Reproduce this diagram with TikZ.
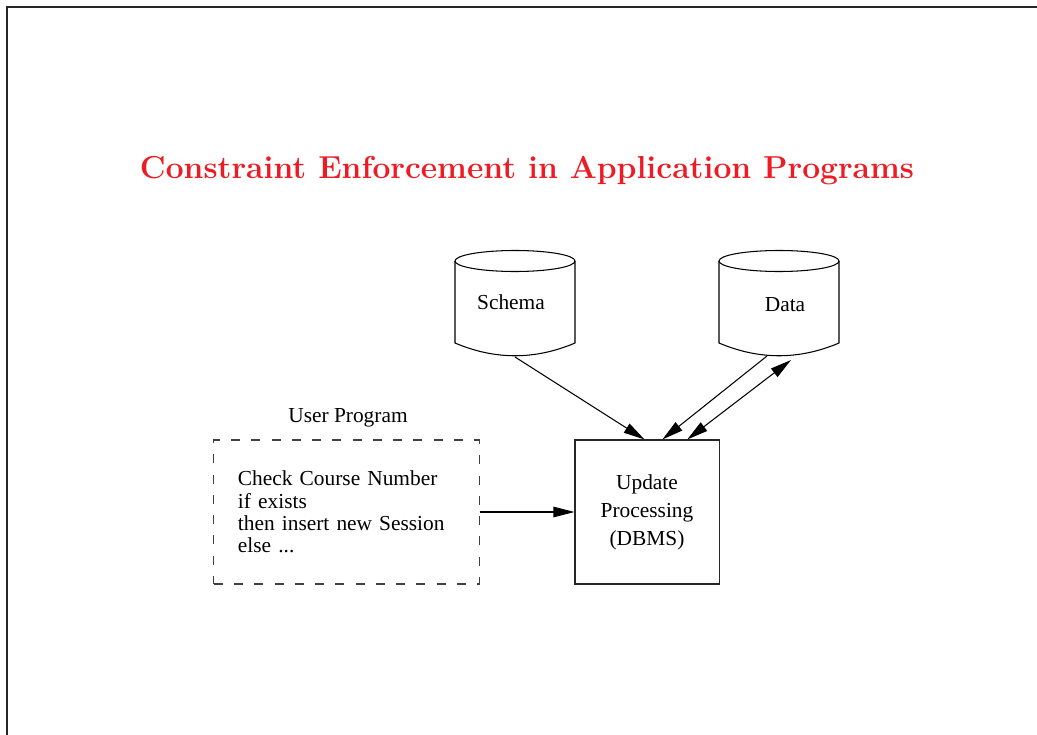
\documentclass[tikz,border=0pt]{standalone}
\usepackage{fontspec}
\usepackage{tikz}
\usetikzlibrary{arrows.meta,positioning,calc}
\newfontfamily\tms{Liberation Serif}
\definecolor{titlered}{RGB}{237,28,36}

\begin{document}
\begin{tikzpicture}[
  x=0.025cm, y=-0.025cm,
  txt/.style={font=\tms\fontsize{15.2}{15.9}\selectfont, inner sep=0pt},
  ttl/.style={font=\fontsize{22.6}{27}\selectfont\bfseries, text=titlered, inner sep=0pt},
  prog/.style={draw=black!75, line width=0.75pt, dash pattern=on 6.4pt off 8pt,
    minimum width=6.625cm, minimum height=3.6cm, text width=5.425cm,
    inner xsep=0.6cm, inner ysep=0pt, align=left, font=\tms\fontsize{15.2}{15.9}\selectfont},
  proc/.style={draw=black!85, line width=0.75pt, minimum width=3.6cm, minimum height=3.6cm,
    inner sep=0pt, align=center, font=\tms\fontsize{15.2}{19.9}\selectfont},
  cyl/.style={line width=0.75pt},
  arr/.style={-{Triangle[length=15pt,width=7.5pt]}, line width=0.75pt},
  darr/.style={{Triangle[length=15pt,width=7.5pt]}-{Triangle[length=15pt,width=7.5pt]}, line width=0.75pt},
]
\useasboundingbox (0,0) rectangle (1037,735);

% ---------- page frame ----------
\draw[line width=1.4pt, black!85] (1037,7) -- (7,7) -- (7,735);

% ---------- title ----------
\node[ttl, anchor=base] (title) at (527,179) {Constraint Enforcement in Application Programs};

% ---------- stores ----------
\foreach \cx in {515,779}{
  \draw[cyl] (\cx,261) ellipse [x radius=1.5cm, y radius=0.2625cm];
  \draw[cyl] (\cx-60,261) -- (\cx-60,343) .. controls (\cx-20,360) and (\cx+20,360) .. (\cx+60,343) -- (\cx+60,261);
}
\node[txt] (schema) at (511,302) {Schema};
\node[txt] (data) at (785,305) {Data};
\coordinate (schema-out) at (515,357);
\coordinate (data-out) at (767,356);
\coordinate (data-in) at (791,360);

% ---------- program and dbms ----------
\node[proc] (upd) at (647,512) {Update\\Processing\\(DBMS)};
\node[prog] (prog) at (346.5,512) {Check Course Number\\if exists\\then insert new Session\\else ...};
\node[txt] (proglab) at (348,418) {User Program};

\draw[arr] (prog.east) -- (upd.west);
\draw[arr] (schema-out) -- (upd.92);
\draw[arr] (data-out) -- (upd.78);
\draw[darr] (upd.61) -- (data-in);
\end{tikzpicture}
\end{document}
